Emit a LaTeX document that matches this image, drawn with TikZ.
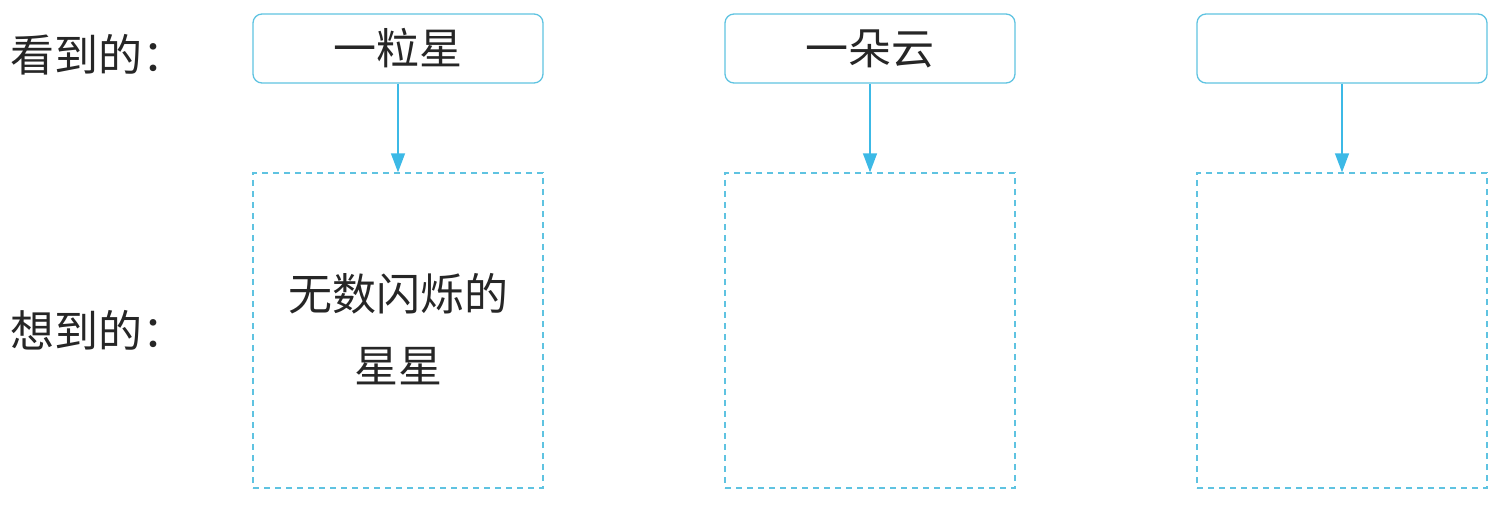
\documentclass[tikz,border=0pt]{standalone}
\usepackage{fontspec}
\newfontfamily\cjk{Noto Sans CJK SC}
\usetikzlibrary{arrows.meta}
\definecolor{boxc}{RGB}{95,195,225}
\definecolor{arrc}{RGB}{60,185,230}
\begin{document}
\begin{tikzpicture}[x=1pt,y=-1pt,
  seenbox/.style={draw=boxc,line width=1.3pt,rounded corners=9pt,minimum width=290pt,minimum height=69pt,inner sep=0pt,font=\cjk\fontsize{43}{48}\selectfont,text=black!85},
  thinkbox/.style={draw=boxc,line width=1.3pt,dash pattern=on 6pt off 5pt,minimum width=290pt,minimum height=315pt,inner sep=0pt},
  conn/.style={draw=arrc,line width=1.3pt,-{Triangle[length=19pt,width=14pt]}},
  lbl/.style={font=\cjk\fontsize{44}{48}\selectfont,anchor=west,inner sep=0pt,text=black!85},
  body/.style={font=\cjk\fontsize{44}{72}\selectfont,align=center,inner sep=0pt,text=black!85}]
\useasboundingbox (0,0) rectangle (1504,508);
\node[lbl] (l1) at (10,55) {看到的：};
\node[lbl] (l2) at (10,330) {想到的：};
\node[seenbox] (s1) at (398,48.5) {一粒星};
\node[seenbox] (s2) at (870,48.5) {一朵云};
\node[seenbox] (s3) at (1342,48.5) {};
\node[thinkbox] (t1) at (398,330.5) {};
\node[thinkbox] (t2) at (870,330.5) {};
\node[thinkbox] (t3) at (1342,330.5) {};
\node[body] (w1) at (398,329) {无数闪烁的\\星星};
\draw[conn] (s1.south) -- (t1.north);
\draw[conn] (s2.south) -- (t2.north);
\draw[conn] (s3.south) -- (t3.north);
\end{tikzpicture}
\end{document}
